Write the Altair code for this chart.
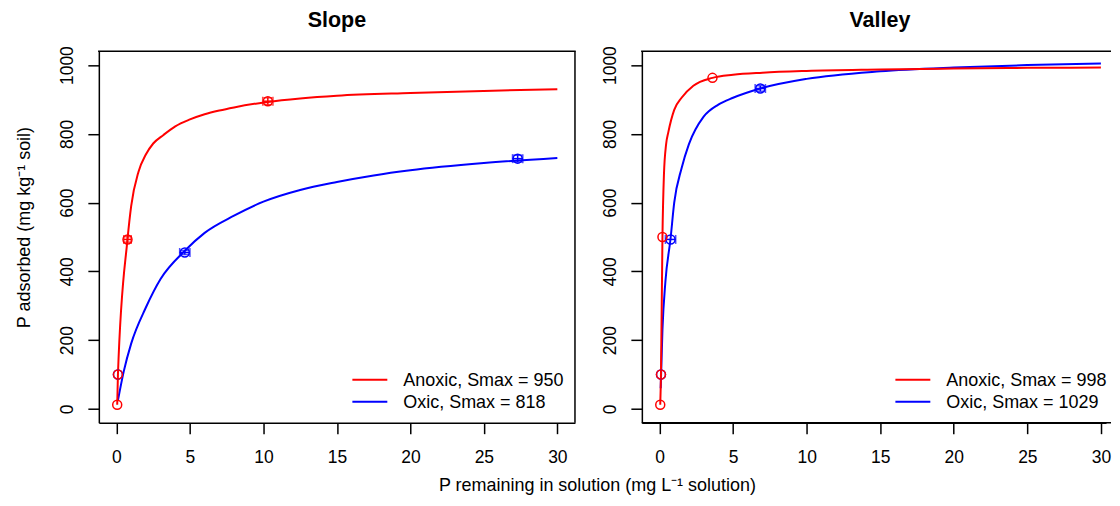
import altair as alt
import pandas as pd

FONT = "Liberation Sans"
RED = "#FF0000"
BLUE = "#0000FF"

# ---------------- data ----------------
# Slope panel
slope_anoxic_x = [0.05, 0.1, 0.75, 10.3]
slope_anoxic_y = [12, 100, 493, 895]
slope_anoxic_xerr = [0, 0, 0.25, 0.35]
slope_anoxic_yerr = [0, 0, 8, 10]
slope_oxic_x = [0.1, 4.65, 27.3]
slope_oxic_y = [100, 455, 728]
slope_oxic_xerr = [0, 0.35, 0.35]
slope_oxic_yerr = [0, 6, 10]
slope_anoxic_curve_x = [0.05, 0.1, 0.75, 1.0, 1.5, 2.0, 2.5, 3.2, 4, 5, 6, 7, 8, 10.3, 12.5, 15, 20, 25, 30]
slope_anoxic_curve_y = [12, 100, 493, 590, 690, 740, 772, 797, 822, 842, 857, 868, 877, 893, 903, 911, 919, 925, 930]
slope_oxic_curve_x = [0.1, 0.5, 1, 2, 3, 4.65, 6, 8, 10, 12.5, 15, 17.5, 20, 25, 30]
slope_oxic_curve_y = [25, 110, 190, 295, 378, 460, 512, 562, 603, 637, 660, 679, 694, 715, 730]
slope_smax = [950, 818]

# Valley panel
valley_anoxic_x = [0.05, 0.1, 0.2, 3.6]
valley_anoxic_y = [12, 100, 500, 963]
valley_anoxic_xerr = [0, 0, 0, 0]
valley_anoxic_yerr = [0, 0, 0, 0]
valley_oxic_x = [0.1, 0.75, 6.85]
valley_oxic_y = [100, 493, 932]
valley_oxic_xerr = [0, 0.35, 0.35]
valley_oxic_yerr = [0, 0, 8]
valley_anoxic_curve_x = [0.05, 0.1, 0.2, 0.3, 0.45, 0.6, 1.0, 1.5, 2.3, 3.6, 5, 7, 10, 15, 20, 25, 30]
valley_anoxic_curve_y = [12, 100, 500, 680, 770, 805, 870, 905, 940, 963, 972, 978, 983, 987, 990, 992, 993]
valley_oxic_curve_x = [0.08, 0.2, 0.4, 0.75, 1.0, 1.5, 2, 3, 4, 5, 6.85, 10, 15, 20, 25, 30]
valley_oxic_curve_y = [60, 230, 370, 495, 600, 700, 770, 850, 885, 905, 932, 960, 982, 993, 1000, 1005]
valley_smax = [998, 1029]

series_names = ["Anoxic", "Oxic"]
x_ticks = [0, 5, 10, 15, 20, 25, 30]
y_ticks = [0, 200, 400, 600, 800, 1000]

PX_PER_UNIT = 14.74
H = 372
W_RIGHT = 465


def panel(title, pts, curves, smax, width, xmax, left, ytitle):
    xs = alt.Scale(domain=[-1.2, xmax], nice=False, zero=False)
    ys = alt.Scale(domain=[-40, 1040], nice=False, zero=False)
    if left:
        xaxis = alt.Axis(values=x_ticks, format="d",
                         title="P remaining in solution (mg L\u207b\u00b9 solution)",
                         titleX=499, titleY=63, titleAlign="center",
                         titleBaseline="middle", titleAnchor="middle")
    else:
        xaxis = alt.Axis(values=x_ticks, format="d", title=None)
    if ytitle:
        yaxis = alt.Axis(values=y_ticks, format="d", title=ytitle, titleAngle=270, titleX=-74,
                         titleY=176, titleAlign="center", titleBaseline="middle")
    else:
        yaxis = alt.Axis(values=y_ticks, format="d", title=None)

    def X(f):
        return alt.X(f"{f}:Q", scale=xs, axis=xaxis)

    def Y(f):
        return alt.Y(f"{f}:Q", scale=ys, axis=yaxis)

    colors = {"Anoxic": RED, "Oxic": BLUE}
    layers = []

    # curves: oxic first, anoxic on top
    for s in ["Oxic", "Anoxic"]:
        cx, cy = curves[s]
        df = pd.DataFrame({"x": cx, "y": cy, "o": list(range(len(cx)))})
        layers.append(alt.Chart(df).mark_line(color=colors[s], strokeWidth=2, interpolate="monotone",
                                              clip=True).encode(x=X("x"), y=Y("y"), order="o:Q"))
    for s in ["Oxic", "Anoxic"]:
        px, py, pxe, pye = pts[s]
        df = pd.DataFrame({"x": px, "y": py,
                           "xlo": [a - e for a, e in zip(px, pxe)], "xhi": [a + e for a, e in zip(px, pxe)],
                           "ylo": [a - e for a, e in zip(py, pye)], "yhi": [a + e for a, e in zip(py, pye)],
                           "xe": pxe, "ye": pye})
        c = colors[s]
        dx = df[df.xe > 0]
        dy = df[df.ye > 0]
        if len(dx):
            layers.append(alt.Chart(dx).mark_rule(color=c, strokeWidth=1.5).encode(
                x=X("xlo"), x2="xhi:Q", y=Y("y")))
            for col in ["xlo", "xhi"]:
                layers.append(alt.Chart(dx).mark_tick(color=c, orient="vertical", size=9, thickness=1.5).encode(
                    x=X(col), y=Y("y")))
        if len(dy):
            layers.append(alt.Chart(dy).mark_rule(color=c, strokeWidth=1.5).encode(
                x=X("x"), y=Y("ylo"), y2="yhi:Q"))
            for col in ["ylo", "yhi"]:
                layers.append(alt.Chart(dy).mark_tick(color=c, orient="horizontal", size=9, thickness=1.5).encode(
                    x=X("x"), y=Y(col)))
        layers.append(alt.Chart(df).mark_point(shape="circle", filled=False, color=c, size=81,
                                               strokeWidth=1.5, opacity=1).encode(x=X("x"), y=Y("y")))

    # legend (no box)
    labels = [f"{n}, Smax = {v}" for n, v in zip(series_names, smax)]
    for i, (n, lab) in enumerate(zip(series_names, labels)):
        d = pd.DataFrame({"label": [lab]})
        yy = 329 + 22 * i
        layers.append(alt.Chart(d).mark_rule(color=colors[n], strokeWidth=2).encode(
            x=alt.value(254), x2=alt.value(289), y=alt.value(yy)))
        layers.append(alt.Chart(d).mark_text(align="left", baseline="middle", font=FONT, fontSize=18,
                                             color="black").encode(
            text="label:N", x=alt.value(305), y=alt.value(yy + 1)))

    # panel title
    dt = pd.DataFrame({"t": [title]})
    layers.append(alt.Chart(dt).mark_text(align="center", baseline="alphabetic", font=FONT, fontSize=21.5,
                                          fontWeight="bold", color="black").encode(
        text="t:N", x=alt.value(width / 2 if left else 238.5), y=alt.value(-24)))

    # box lines (top and, for left panel, right); right panel runs off the page edge
    d1 = pd.DataFrame({"k": [0]})
    layers.append(alt.Chart(d1).mark_rule(color="black", strokeWidth=1.5).encode(
        x=alt.value(-0.75), x2=alt.value(width + (0.75 if left else 5)), y=alt.value(0)))
    if left:
        layers.append(alt.Chart(d1).mark_rule(color="black", strokeWidth=1.5).encode(
            x=alt.value(width), y=alt.value(0), y2=alt.value(H)))
    else:
        layers.append(alt.Chart(d1).mark_rule(color="black", strokeWidth=1.5).encode(
            x=alt.value(0), x2=alt.value(width + 5), y=alt.value(H)))

    return alt.layer(*layers).properties(width=width, height=H)


slope = panel("Slope",
              {"Anoxic": (slope_anoxic_x, slope_anoxic_y, slope_anoxic_xerr, slope_anoxic_yerr),
               "Oxic": (slope_oxic_x, slope_oxic_y, slope_oxic_xerr, slope_oxic_yerr)},
              {"Anoxic": (slope_anoxic_curve_x, slope_anoxic_curve_y),
               "Oxic": (slope_oxic_curve_x, slope_oxic_curve_y)},
              slope_smax, 477, 31.2, True, "P adsorbed (mg kg\u207b\u00b9 soil)")

valley = panel("Valley",
               {"Anoxic": (valley_anoxic_x, valley_anoxic_y, valley_anoxic_xerr, valley_anoxic_yerr),
                "Oxic": (valley_oxic_x, valley_oxic_y, valley_oxic_xerr, valley_oxic_yerr)},
               {"Anoxic": (valley_anoxic_curve_x, valley_anoxic_curve_y),
                "Oxic": (valley_oxic_curve_x, valley_oxic_curve_y)},
               valley_smax, W_RIGHT, -1.2 + W_RIGHT / PX_PER_UNIT, False, None)

chart = alt.hconcat(slope, valley, spacing=67, bounds="flush").properties(
    padding={"left": 8, "top": 2, "right": 0, "bottom": 0},
    background="white",
).configure_view(stroke=None).configure_axis(
    grid=False, labelFont=FONT, labelFontSize=17.5, labelColor="black",
    domainColor="black", domainWidth=1.5, tickColor="black", tickWidth=1.5, tickSize=11,
    labelFlush=False, labelOverlap=False,
    titleFont=FONT, titleFontSize=18, titleFontWeight="normal", titleColor="black",
).configure_axisX(
    labelPadding=29, labelBaseline="alphabetic",
).configure_axisY(
    labelAngle=270, labelAlign="center", labelBaseline="alphabetic", labelPadding=15,
)

chart.save("out.html", embed_options={"renderer": "svg", "actions": False})
